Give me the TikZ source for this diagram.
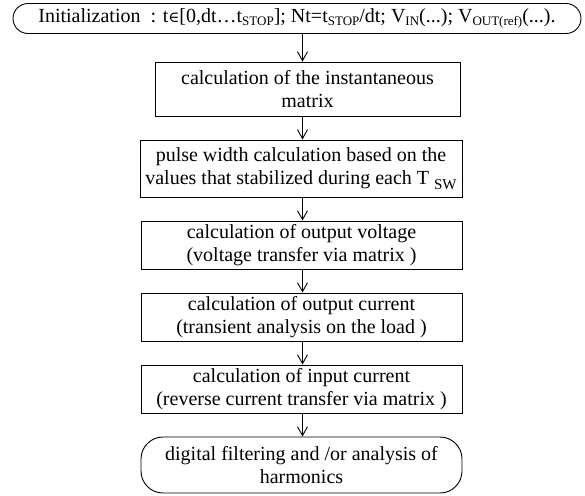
\documentclass[tikz,border=0pt]{standalone}
\usepackage{fontspec}
\setmainfont{Liberation Serif}
\newfontfamily\symfont{DejaVu Serif}
\usetikzlibrary{arrows.meta}
\newcommand{\lowsub}[1]{\raisebox{-0.35ex}{\fontsize{13}{14}\selectfont #1}}
\begin{document}
\begin{tikzpicture}[x=1pt,y=-1pt,
  box/.style={draw, line width=0.9pt, align=center, inner sep=0pt,
    font=\fontsize{20}{23}\selectfont},
  arr/.style={-{Straight Barb[length=9pt,width=10pt,line width=0.9pt]}, line width=0.9pt}]
\useasboundingbox (0,0) rectangle (585,495);
\node[box, rounded corners=15pt, minimum width=568pt, minimum height=30pt] (init) at (297,18.5)
  {Initialization\ \ : t{\symfont\fontsize{15}{14}\selectfont∈}[0,dt…t\lowsub{STOP}]; Nt=t\lowsub{STOP}/dt; V\lowsub{IN}(...); V\lowsub{OUT(ref)}(...).};
\node[box, minimum width=305pt, minimum height=54pt] (b1) at (307.5,89)
  {calculation of the instantaneous\\ matrix};
\node[box, minimum width=322pt, minimum height=57pt] (b2) at (301,168.5)
  {pulse width calculation based on the\\ values that stabilized during each T \raisebox{-0.6ex}{\fontsize{15}{16}\selectfont SW}};
\node[box, minimum width=321pt, minimum height=48pt] (b3) at (301.5,245)
  {calculation of output voltage\\ (voltage transfer via matrix )};
\node[box, minimum width=321pt, minimum height=48pt] (b4) at (301.5,317)
  {calculation of output current\\ (transient analysis on the load )};
\node[box, minimum width=321pt, minimum height=48pt] (b5) at (301.5,389)
  {calculation of input current\\ (reverse current transfer via matrix )};
\node[box, rounded corners=22pt, minimum width=321pt, minimum height=56pt] (end) at (301.5,465)
  {digital filtering and /or analysis of\\ harmonics};
\coordinate (ax) at (302.5,0);
\draw[arr] (init.south -| ax) -- (b1.north -| ax);
\draw[arr] (b1.south -| ax) -- (b2.north -| ax);
\draw[arr] (b2.south -| ax) -- (b3.north -| ax);
\draw[arr] (b3.south -| ax) -- (b4.north -| ax);
\draw[arr] (b4.south -| ax) -- (b5.north -| ax);
\draw[arr] (b5.south -| ax) -- (end.north -| ax);
\end{tikzpicture}
\end{document}
